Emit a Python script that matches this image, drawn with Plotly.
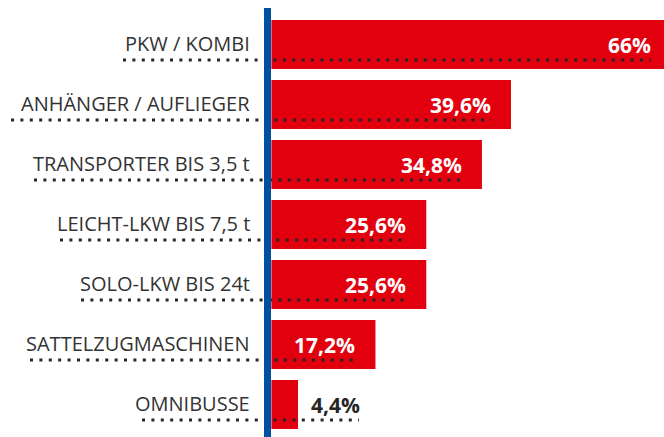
import plotly.graph_objects as go

categories = ["PKW / KOMBI", "ANHÄNGER / AUFLIEGER", "TRANSPORTER BIS 3,5 t",
              "LEICHT-LKW BIS 7,5 t", "SOLO-LKW BIS 24t", "SATTELZUGMASCHINEN", "OMNIBUSSE"]
values = [66, 39.6, 34.8, 25.6, 25.6, 17.2, 4.4]
value_labels = ["66%", "39,6%", "34,8%", "25,6%", "25,6%", "17,2%", "4,4%"]

# layout constants (pixels)
W, H = 664, 437
zero_px = 271.4          # x pixel of value 0
ppu = 6.05               # pixels per percent
x_min = -zero_px / ppu
x_max = (W - zero_px) / ppu
top_px, pitch = 8, 60
row0_center = 44.5
y_top = -(row0_center - top_px) / pitch
y_bot = y_top + (H - top_px) / pitch
dot_start_px = [123, 11, 34, 60, 81, 30, 142]
label_right_px = 252

RED = "#E2000F"
BLUE = "#0050A0"
DARK = "#262626"

idx = list(range(len(categories)))

fig = go.Figure()
fig.add_trace(go.Bar(
    x=values, y=idx, orientation="h", width=0.82,
    marker=dict(color=RED, line=dict(width=0)),
    hoverinfo="skip",
))

annotations = []
shapes = []
for i, (cat, v, lab) in enumerate(zip(categories, values, value_labels)):
    annotations.append(dict(
        x=(label_right_px - zero_px) / ppu, y=i, xref="x", yref="y", text=cat,
        xanchor="right", yanchor="middle", showarrow=False, yshift=1,
        font=dict(family="Open Sans", size=20, color="#333333"),
    ))
    inside = v >= 10
    if inside:
        end = v - 20 / ppu
        annotations.append(dict(
            x=end, y=i, xref="x", yref="y", text=lab, xanchor="right", yanchor="middle",
            showarrow=False, xshift=2,
            font=dict(family="Open Sans", size=21, color="white", weight=700),
        ))
    else:
        end = v + 61 / ppu
        annotations.append(dict(
            x=v, y=i, xref="x", yref="y", text=lab, xanchor="left", yanchor="middle",
            xshift=11, showarrow=False,
            font=dict(family="Open Sans", size=21, color=DARK, weight=700),
        ))
    shapes.append(dict(
        type="line", xref="x", yref="y",
        x0=(dot_start_px[i] - zero_px) / ppu, x1=end,
        y0=i + 15.5 / pitch, y1=i + 15.5 / pitch,
        line=dict(color=DARK, width=3, dash="3px,6.4px"),
        layer="above",
    ))

shapes.append(dict(
    type="line", xref="paper", yref="paper",
    x0=267.5 / W, x1=267.5 / W, y0=0, y1=1,
    line=dict(color=BLUE, width=7), layer="above",
))

fig.update_layout(
    width=W, height=H,
    margin=dict(l=0, r=0, t=top_px, b=0),
    paper_bgcolor="white", plot_bgcolor="white",
    showlegend=False,
    xaxis=dict(range=[x_min, x_max], visible=False, fixedrange=True),
    yaxis=dict(range=[y_bot, y_top], visible=False, fixedrange=True),
    annotations=annotations, shapes=shapes,
)

fig.write_html("out.html", config={"displayModeBar": False},
               post_script="document.body.style.margin='0px';document.body.style.padding='0px';")
